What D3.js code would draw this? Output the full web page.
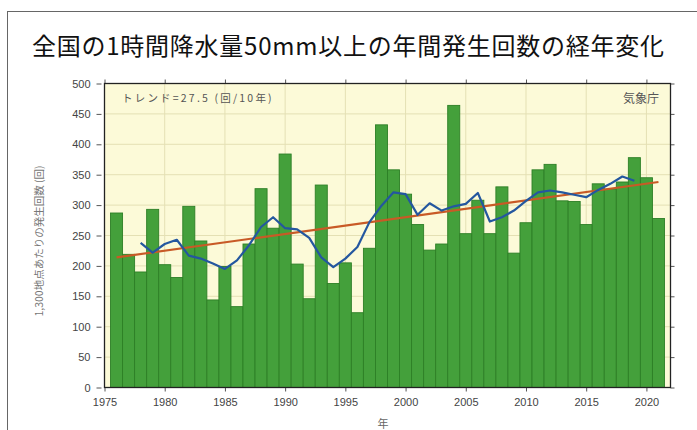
<!DOCTYPE html>
<html><head><meta charset="utf-8">
<script src="https://cdn.jsdelivr.net/npm/d3@7"></script>
<style>body{margin:0;background:#fff;}svg{display:block;}</style>
</head><body>
<svg id="c" width="697" height="430"></svg>
<script>
const years = d3.range(1976, 2022);
const counts = [287,219,190,293,202,181,298,241,144,199,133,236,327,262,384,203,146,333,171,205,123,229,432,358,318,268,226,236,464,253,308,253,330,221,271,358,367,307,306,268,335,326,338,378,345,278];
const maYears = d3.range(1978, 2020);
const maValues = [238,222,236,243,217,212,204,195,209,234,264,280,262,260,246,214,198,212,231,272,299,321,318,284,303,291,298,302,320,273,280,291,307,321,324,321,317,313,325,335,347,340];
const trendYears = [1976, 2021];
const trendValues = [214, 338];
const yTicks = [0,50,100,150,200,250,300,350,400,450,500];
const xTicks = [1975,1980,1985,1990,1995,2000,2005,2010,2015,2020];
const title = "全国の1時間降水量50mm以上の年間発生回数の経年変化";
const yLabel = "1,300地点あたりの発生回数 (回)";
const xLabel = "年";
const trendLabel = "トレンド=27.5 (回/10年)";
const sourceLabel = "気象庁";

const svg = d3.select("#c");
const L = 104.5, R = 670.5, T = 83.5, B = 387.5;
const x = d3.scaleLinear().domain([1975, 2022]).range([L, R]);
const y = d3.scaleLinear().domain([0, 500]).range([B, T]);

// outer frame
svg.append("rect").attr("x", 7.5).attr("y", 11.5).attr("width", 720).attr("height", 440)
  .attr("fill", "none").attr("stroke", "#666").attr("stroke-width", 1);

svg.append("text").attr("x", 32).attr("y", 55).text(title)
  .attr("font-family", "'Noto Sans CJK JP', sans-serif").attr("font-size", 24)
  .attr("letter-spacing", 0.75).attr("fill", "#111");

// plot background
svg.append("rect").attr("x", L).attr("y", T).attr("width", R - L).attr("height", B - T).attr("fill", "#fcfad8");

// grid
svg.append("g").selectAll("line").data(yTicks.slice(1, -1)).join("line")
  .attr("x1", L).attr("x2", R).attr("y1", d => y(d)).attr("y2", d => y(d))
  .attr("stroke", "#e4e0b4").attr("stroke-width", 1);
svg.append("g").selectAll("line").data(xTicks.slice(1)).join("line")
  .attr("y1", T).attr("y2", B).attr("x1", d => x(d)).attr("x2", d => x(d))
  .attr("stroke", "#e4e0b4").attr("stroke-width", 1);

// bars
svg.append("g").selectAll("rect").data(years).join("rect")
  .attr("x", (d) => x(d - 0.5)).attr("width", x(1) - x(0))
  .attr("y", (d, i) => y(counts[i])).attr("height", (d, i) => y(0) - y(counts[i]))
  .attr("fill", "#44a03b").attr("stroke", "#2d7f26").attr("stroke-width", 0.9);

// trend line
svg.append("line")
  .attr("x1", x(trendYears[0])).attr("y1", y(trendValues[0]))
  .attr("x2", x(trendYears[1])).attr("y2", y(trendValues[1]))
  .attr("stroke", "#c85a26").attr("stroke-width", 2.2);

// moving average
svg.append("path").datum(maYears.map((d, i) => [d, maValues[i]]))
  .attr("d", d3.line().x(d => x(d[0])).y(d => y(d[1])))
  .attr("fill", "none").attr("stroke", "#24579f").attr("stroke-width", 2.2)
  .attr("stroke-linejoin", "round");

// axes
const tickFont = (g) => {
  g.select(".domain").remove();
  g.selectAll(".tick line").attr("stroke", "#555");
  g.selectAll(".tick text").attr("fill", "#444").attr("font-family", "'Liberation Sans', Arial, sans-serif").attr("font-size", 11);
};
svg.append("g").attr("transform", `translate(${L - 3},0)`)
  .call(d3.axisLeft(y).tickValues(yTicks).tickSize(5).tickPadding(6)).call(tickFont);
svg.append("g").attr("transform", `translate(0,${B})`)
  .call(d3.axisBottom(x).tickValues(xTicks).tickFormat(d3.format("d")).tickSize(4).tickPadding(7)).call(tickFont);
svg.append("g").attr("transform", `translate(0,${T})`)
  .call(d3.axisTop(x).tickValues(xTicks).tickFormat("").tickSize(4)).call(tickFont);
svg.append("g").attr("transform", `translate(${R},0)`)
  .call(d3.axisRight(y).tickValues(yTicks).tickFormat("").tickSize(4)).call(tickFont);

// plot frame
svg.append("rect").attr("x", L).attr("y", T).attr("width", R - L).attr("height", B - T)
  .attr("fill", "none").attr("stroke", "#222").attr("stroke-width", 1.3);

svg.append("text").attr("x", 122).attr("y", 102).text(trendLabel)
  .attr("font-family", "'Noto Sans CJK JP', sans-serif").attr("font-size", 10.5)
  .attr("letter-spacing", 2.2).attr("fill", "#555");
svg.append("text").attr("x", 659).attr("y", 103).attr("text-anchor", "end").text(sourceLabel)
  .attr("font-family", "'Noto Sans CJK JP', sans-serif").attr("font-size", 12).attr("fill", "#555");

svg.append("text").attr("transform", `translate(43,241) rotate(-90)`).attr("text-anchor", "middle")
  .text(yLabel).attr("font-family", "'Noto Sans CJK JP', sans-serif").attr("font-size", 10.5).attr("fill", "#777");
svg.append("text").attr("x", 383).attr("y", 428).attr("text-anchor", "middle").text(xLabel)
  .attr("font-family", "'Noto Sans CJK JP', sans-serif").attr("font-size", 11).attr("fill", "#666");
</script>
</body></html>
